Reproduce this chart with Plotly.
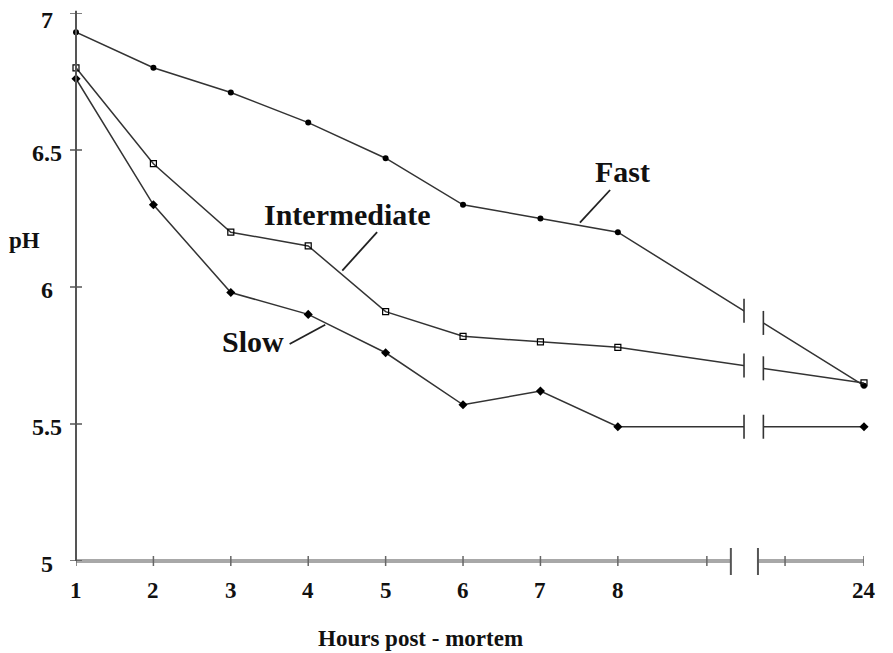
import numpy as np
import plotly.graph_objects as go

# ---- data ----
hours = [1, 2, 3, 4, 5, 6, 7, 8, 24]
fast = [6.93, 6.80, 6.71, 6.60, 6.47, 6.30, 6.25, 6.20, 5.64]
intermediate = [6.80, 6.45, 6.20, 6.15, 5.91, 5.82, 5.80, 5.78, 5.65]
slow = [6.76, 6.30, 5.98, 5.90, 5.76, 5.57, 5.62, 5.49, 5.49]
y_ticks = [5, 5.5, 6, 6.5, 7]
y_tick_labels = ["5", "5.5", "6", "6.5", "7"]
x_tick_labels = ["1", "2", "3", "4", "5", "6", "7", "8", "24"]

# ---- broken x-axis mapping (hour 24 compressed after the break) ----
POS_24 = 11.18
def pos(h):
    return POS_24 if h == 24 else h

xp = [pos(h) for h in hours]
LINE_BREAK = (9.63, 9.88)
AXIS_BREAK = (9.46, 9.81)
EXTRA_TICKS = [9.15, 10.16]

FONT = "Liberation Serif"
LC = "#333333"

fig = go.Figure()
series = [
    (fast, dict(symbol="circle", size=6, color="black")),
    (intermediate, dict(symbol="square-open", size=6, color="black", line=dict(width=1.2, color="black"))),
    (slow, dict(symbol="diamond", size=7, color="black")),
]
for vals, mk in series:
    fig.add_trace(go.Scatter(x=xp, y=vals, mode="lines+markers",
                             line=dict(color=LC, width=1.5), marker=mk,
                             showlegend=False, hoverinfo="skip", cliponaxis=False))

shapes = []
# white gap across series lines
shapes.append(dict(type="rect", xref="x", yref="y", x0=LINE_BREAK[0], x1=LINE_BREAK[1],
                   y0=5.1, y1=7.0, fillcolor="white", line=dict(width=0), layer="above"))
# break bars at series ends
for vals, _ in series:
    for bx in LINE_BREAK:
        yb = float(np.interp(bx, [pos(8), POS_24], [vals[7], vals[8]]))
        shapes.append(dict(type="line", xref="x", yref="y", ysizemode="pixel", yanchor=yb,
                           x0=bx, x1=bx, y0=-12, y1=12, line=dict(color=LC, width=1.6), layer="above"))
# x axis (gray band with gap) -- paper y so it is not clipped at the plot edge
for a, b in [(1, AXIS_BREAK[0]), (AXIS_BREAK[1], POS_24)]:
    shapes.append(dict(type="line", xref="x", yref="paper", x0=a, x1=b, y0=0, y1=0,
                       line=dict(color="#a8a8a8", width=4), layer="above"))
for bx in AXIS_BREAK:
    shapes.append(dict(type="line", xref="x", yref="paper", ysizemode="pixel", yanchor=0,
                       x0=bx, x1=bx, y0=-14, y1=13, line=dict(color="#555555", width=2), layer="above"))
for tx in xp + EXTRA_TICKS:
    shapes.append(dict(type="line", xref="x", yref="paper", ysizemode="pixel", yanchor=0,
                       x0=tx, x1=tx, y0=-5, y1=5, line=dict(color="#666666", width=1.5), layer="above"))
# y axis
shapes.append(dict(type="line", xref="paper", yref="paper", x0=0, x1=0, y0=0, y1=1.004,
                   line=dict(color="#555555", width=2), layer="above"))
for ty in y_ticks:
    shapes.append(dict(type="line", xref="paper", yref="y", xsizemode="pixel", xanchor=0,
                       x0=-6, x1=6, y0=ty, y1=ty, line=dict(color="#555555", width=1.5), layer="above"))
# pointer lines for labels
pointers = [((7.90, 6.354), (7.51, 6.235)),
            ((4.89, 6.20), (4.44, 6.06)),
            ((3.76, 5.792), (4.22, 5.862))]
for (x0, y0), (x1, y1) in pointers:
    shapes.append(dict(type="line", xref="x", yref="y", x0=x0, y0=y0, x1=x1, y1=y1,
                       line=dict(color="#222222", width=1.8)))

annotations = []
for ty, lab in zip(y_ticks, y_tick_labels):
    annotations.append(dict(x=0, xref="paper", y=ty, yref="y", text="<b>" + lab + "</b>", showarrow=False,
                            xanchor="center", yanchor="middle", xshift=-29,
                            yshift=-7 if ty == 7 else -3, height=22,
                            font=dict(family=FONT, size=24, color="#111111")))
for h, lab in zip(hours, x_tick_labels):
    annotations.append(dict(x=pos(h), xref="x", y=5, yref="y", text="<b>" + lab + "</b>", showarrow=False,
                            xanchor="center", yanchor="middle", yshift=-29,
                            font=dict(family=FONT, size=23, color="#111111")))
annotations.append(dict(x=0, xref="paper", y=6.17, yref="y", text="<b>pH</b>", showarrow=False,
                        xanchor="center", xshift=-52, font=dict(family=FONT, size=23, color="#111111")))
annotations.append(dict(x=0.437, xref="paper", y=5, yref="y", text="<b>Hours post - mortem</b>",
                        showarrow=False, yshift=-77, xanchor="center",
                        font=dict(family=FONT, size=23, color="#111111")))
for tx, ty, t in [(8.06, 6.42, "Fast"), (4.51, 6.263, "Intermediate"), (3.29, 5.80, "Slow")]:
    annotations.append(dict(x=tx, y=ty, xref="x", yref="y", text="<b>" + t + "</b>", showarrow=False,
                            font=dict(family=FONT, size=30, color="#111111")))

# page body has an 8px margin: shrink figure and margins so the plot lands where the reference has it
fig.update_layout(
    width=885, height=645,
    margin=dict(l=68, r=29, t=5, b=92),
    plot_bgcolor="white", paper_bgcolor="white",
    xaxis=dict(range=[1, POS_24], visible=False, fixedrange=True),
    yaxis=dict(range=[5, 7], visible=False, fixedrange=True),
    shapes=shapes, annotations=annotations,
)
fig.write_html("out.html")
